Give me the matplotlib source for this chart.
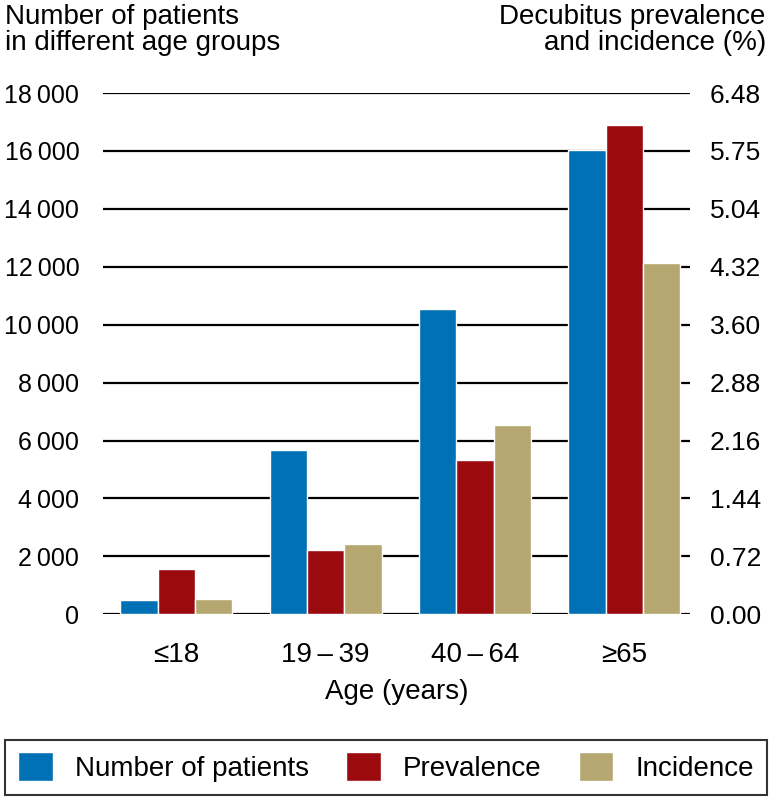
import numpy as np
import matplotlib.pyplot as plt
from matplotlib.ticker import FuncFormatter

plt.rcParams['font.family'] = ['Liberation Sans', 'DejaVu Sans']

# Data
groups = ["\u226418", "19\u2009\u2013\u200939", "40\u2009\u2013\u200964", "\u226565"]
patients = [500, 5690, 10530, 16040]
prevalence = [0.56, 0.80, 1.92, 6.08]
incidence = [0.19, 0.88, 2.35, 4.37]
left_ticks = [0, 2000, 4000, 6000, 8000, 10000, 12000, 14000, 16000, 18000]
right_labels = ["0.00", "0.72", "1.44", "2.16", "2.88", "3.60", "4.32", "5.04", "5.75", "6.48"]

c_blue = "#0071b4"
c_red = "#9b0a0e"
c_tan = "#b5a76f"

fig = plt.figure(figsize=(7.72, 7.97), dpi=100)
ax = fig.add_axes([0.1334, 0.2292, 0.894 - 0.1334, 0.8833 - 0.2292])
ax2 = ax.twinx()

x = np.arange(len(groups))
w = 0.25
b1 = ax.bar(x - w, patients, w, color=c_blue, edgecolor="white", linewidth=1, zorder=3,
            label="Number of patients")
b2 = ax2.bar(x, prevalence, w, color=c_red, edgecolor="white", linewidth=1, zorder=3,
             label="Prevalence")
b3 = ax2.bar(x + w, incidence, w, color=c_tan, edgecolor="white", linewidth=1, zorder=3,
             label="Incidence")

ax.set_xlim(-0.49, 3.44)
ax.set_ylim(0, 18000)
ax2.set_ylim(0, 6.48)

ax.set_yticks(left_ticks)
ax.yaxis.set_major_formatter(FuncFormatter(lambda v, p: f"{int(v):,}".replace(",", "\u2009")))
ax2.set_yticks(np.linspace(0, 6.48, len(right_labels)))
ax2.set_yticklabels(right_labels)

for t in left_ticks:
    ax.axhline(t, color="black", lw=1.6, zorder=1)

for a in (ax, ax2):
    for s in a.spines.values():
        s.set_visible(False)
ax.tick_params(axis="y", length=0, labelsize=18, pad=17)
ax2.tick_params(axis="y", length=0, labelsize=19, pad=14)

ax.set_xticks(x)
ax.set_xticklabels(groups)
ax.tick_params(axis="x", length=0, labelsize=20, pad=20)
ax.set_xlabel("Age (years)", fontsize=20, labelpad=8)

fig.text(0.006, 0.995, "Number of patients\nin different age groups", fontsize=20,
         ha="left", va="top", linespacing=1.0)
fig.text(0.992, 0.995, "Decubitus prevalence\nand incidence (%)", fontsize=20,
         ha="right", va="top", linespacing=1.0, multialignment="right")

leg = fig.legend(handles=[b1, b2, b3], loc="lower left",
                 bbox_to_anchor=(0.007, 0.003, 0.986, 0.073), bbox_transform=fig.transFigure,
                 ncol=3, fontsize=20, frameon=True, fancybox=False, edgecolor="black",
                 handlelength=1.25, handleheight=1.25, handletextpad=0.8,
                 borderpad=0.45, borderaxespad=0, mode="expand")
leg.get_frame().set_linewidth(1.5)

fig.savefig("out.png", dpi=100)
